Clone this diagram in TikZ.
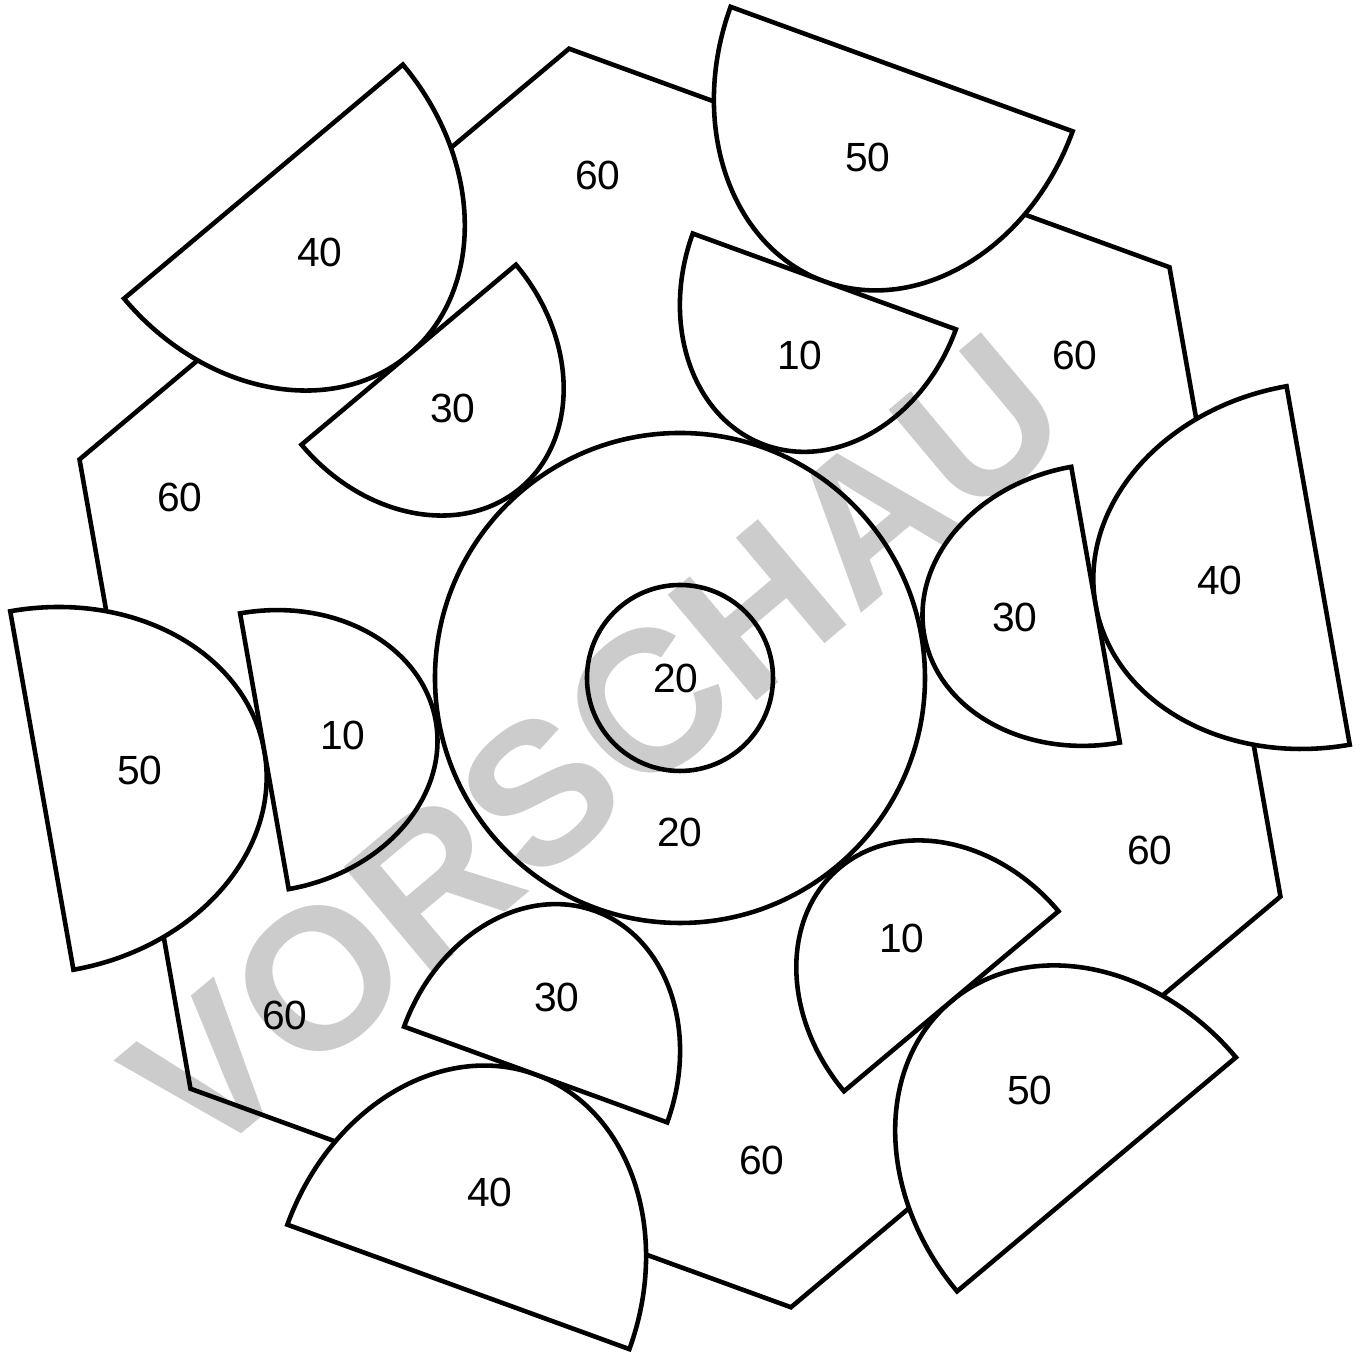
\documentclass[tikz,border=0pt]{standalone}
\usepackage{fontspec}
\setmainfont{Liberation Sans}

\tikzset{
    piece/.style={draw, line width=1.3pt, fill=white},
    num/.style={font=\fontsize{11.6}{14}\selectfont},
    stamp/.style={font=\fontsize{57}{60}\selectfont\bfseries, text=black!20}
}

\begin{document}
\begin{tikzpicture}[line width=1.3pt]

        \useasboundingbox (-6.80,-6.74) rectangle (6.84,6.78);

        % --- Hexagon ---
        \draw[line join=miter] (40:6.39) \foreach \k in {1,...,5} { -- (40+60*\k:6.39) } -- cycle;

        % --- Centre: two circles ---
        \draw (0,0) circle (2.45);
        \draw (0,0) circle (0.93);
        \node[num] (mid) at (-0.04,0) {20};
        \node[num] (ring) at (0,-1.54) {20};

        % --- Half-ellipse pieces on each side ---
        \foreach \ang in {70,10,-50,-110,-170,130} {
            \begin{scope}[rotate=\ang]
                % outer piece over the edge
                \draw[piece] (6.48,1.82) arc[start angle=90, end angle=270, x radius=2.26, y radius=1.82] -- cycle;
                % inner piece
                \draw[piece] (4.22,1.40) arc[start angle=90, end angle=270, x radius=1.74, y radius=1.40] -- cycle;
            \end{scope}
        }

        % --- Numbers ---
        \foreach \x/\y/\n [count=\i] in {1.88/5.21/50, 5.40/0.98/40, 3.50/-4.12/50, -1.90/-5.14/40, -5.40/-0.92/50, -3.60/4.26/40}
            \node[num] (big\i) at (\x,\y) {\n};
        \foreach \x/\y/\n [count=\i] in {1.20/3.23/10, 3.35/0.61/30, 2.22/-2.60/10, -1.23/-3.19/30, -3.37/-0.57/10, -2.27/2.70/30}
            \node[num] (small\i) at (\x,\y) {\n};
        \foreach \x/\y [count=\i] in {-0.82/5.03, 3.95/3.23, 4.70/-1.72, 0.82/-4.82, -3.95/-3.37, -5.00/1.81}
            \node[num] (corner\i) at (\x,\y) {60};

        % --- Watermark ---
        \begin{scope}[blend mode=multiply]
            \node[stamp, rotate=40] (vorschau) at (-0.84,-0.68) {VORSCHAU};
        \end{scope}

    \end{tikzpicture}
\end{document}
